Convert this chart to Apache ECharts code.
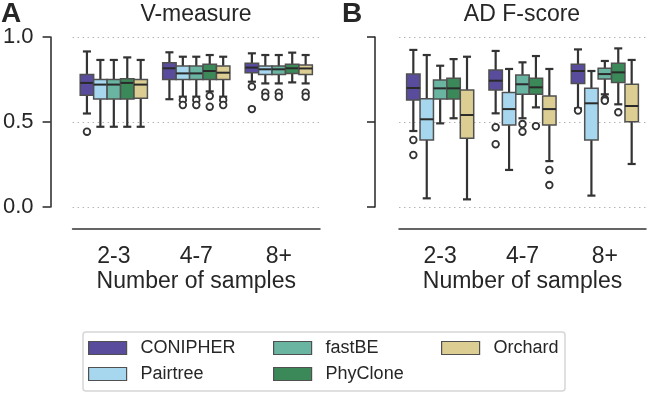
<!DOCTYPE html>
<html>
<head>
<meta charset="utf-8">
<script src="https://cdn.jsdelivr.net/npm/echarts@6/dist/echarts.min.js"></script>
<style>
  html, body { margin: 0; padding: 0; background: #fff; }
  #chart { width: 650px; height: 397px; }
</style>
</head>
<body>
<div id="chart"></div>
<script>
// categories
const groups = ['2-3', '4-7', '8+']
const methods = ['CONIPHER', 'Pairtree', 'fastBE', 'PhyClone', 'Orchard']
const yTicks = [0, 0.5, 1.0]

// V-measure boxes: [min, q1, median, q3, max] per group
const vConipher = [[0.55, 0.657, 0.73, 0.78, 0.915], [0.634, 0.75, 0.816, 0.849, 0.91], [0.737, 0.79, 0.82, 0.845, 0.904]]
const vPairtree = [[0.472, 0.635, 0.72, 0.75, 0.865], [0.649, 0.75, 0.786, 0.829, 0.884], [0.727, 0.78, 0.81, 0.829, 0.894]]
const vFastbe = [[0.472, 0.635, 0.72, 0.75, 0.865], [0.649, 0.75, 0.786, 0.829, 0.884], [0.727, 0.78, 0.81, 0.829, 0.894]]
const vPhyclone = [[0.472, 0.635, 0.73, 0.755, 0.88], [0.68, 0.75, 0.80, 0.84, 0.894], [0.733, 0.786, 0.816, 0.84, 0.908]]
const vOrchard = [[0.472, 0.64, 0.72, 0.75, 0.865], [0.649, 0.75, 0.79, 0.83, 0.884], [0.727, 0.78, 0.815, 0.835, 0.894]]

// V-measure outliers: [group index, value]
const vOutConipher = [[0, 0.443], [2, 0.708], [2, 0.576]]
const vOutPairtree = [[1, 0.63], [1, 0.60], [2, 0.672], [2, 0.649]]
const vOutFastbe = [[1, 0.63], [1, 0.60], [2, 0.672], [2, 0.649]]
const vOutPhyclone = [[1, 0.653], [1, 0.59]]
const vOutOrchard = [[1, 0.63], [1, 0.60], [2, 0.672], [2, 0.649]]

// AD F-score boxes
const aConipher = [[0.447, 0.629, 0.70, 0.782, 0.924], [0.551, 0.688, 0.743, 0.806, 0.918], [0.58, 0.727, 0.80, 0.839, 0.927]]
const aPairtree = [[0.051, 0.394, 0.516, 0.637, 0.894], [0.218, 0.482, 0.576, 0.673, 0.812], [0.067, 0.394, 0.61, 0.698, 0.80]]
const aFastbe = [[0.492, 0.635, 0.698, 0.747, 0.831], [0.522, 0.663, 0.722, 0.776, 0.851], [0.663, 0.753, 0.782, 0.816, 0.859]]
const aPhyclone = [[0.522, 0.635, 0.698, 0.757, 0.87], [0.586, 0.663, 0.704, 0.757, 0.888], [0.604, 0.733, 0.792, 0.845, 0.933]]
const aOrchard = [[0.045, 0.404, 0.541, 0.688, 0.884], [0.27, 0.482, 0.576, 0.653, 0.812], [0.253, 0.502, 0.594, 0.722, 0.865]]

// AD F-score outliers
const aOutConipher = [[0, 0.394], [0, 0.306], [1, 0.469], [1, 0.369], [2, 0.567]]
const aOutPairtree = []
const aOutFastbe = [[1, 0.488], [1, 0.443], [2, 0.635], [2, 0.625]]
const aOutPhyclone = [[1, 0.476], [2, 0.557]]
const aOutOrchard = [[1, 0.218], [1, 0.129]]

const vBoxes = [vConipher, vPairtree, vFastbe, vPhyclone, vOrchard]
const vOuts = [vOutConipher, vOutPairtree, vOutFastbe, vOutPhyclone, vOutOrchard]
const aBoxes = [aConipher, aPairtree, aFastbe, aPhyclone, aOrchard]
const aOuts = [aOutConipher, aOutPairtree, aOutFastbe, aOutPhyclone, aOutOrchard]

const colors = ['#5a4c9c', '#a6d7ee', '#6ab4a2', '#3b8958', '#dccd93']
const FONT = '"Liberation Sans", Arial, Helvetica, sans-serif'
const INK = '#262626'

// 箱体相对类别中心的偏移
function boxOffset(api, mi) {
  const band = api.size([1, 0])[0]
  const step = band * 0.163
  return { off: (mi - 2) * step, w: step }
}

function boxRenderer(mi) {
  return function (params, api) {
    const cat = api.value(0)
    const { off, w } = boxOffset(api, mi)
    const x = api.coord([cat, 0])[0] + off
    const y = v => api.coord([cat, v])[1]
    const yMin = y(api.value(1)), yQ1 = y(api.value(2)), yMed = y(api.value(3))
    const yQ3 = y(api.value(4)), yMax = y(api.value(5))
    const cap = w * 0.3
    const ws = { stroke: '#333', lineWidth: 2.2 }
    return {
      type: 'group',
      children: [
        { type: 'line', shape: { x1: x, y1: yMin, x2: x, y2: yQ1 }, style: ws },
        { type: 'line', shape: { x1: x, y1: yQ3, x2: x, y2: yMax }, style: ws },
        { type: 'line', shape: { x1: x - cap, y1: yMin, x2: x + cap, y2: yMin }, style: ws },
        { type: 'line', shape: { x1: x - cap, y1: yMax, x2: x + cap, y2: yMax }, style: ws },
        { type: 'rect', shape: { x: x - w / 2, y: yQ3, width: w, height: yQ1 - yQ3 },
          style: { fill: colors[mi], stroke: '#505050', lineWidth: 1.5 } },
        { type: 'line', shape: { x1: x - w / 2, y1: yMed, x2: x + w / 2, y2: yMed },
          style: { stroke: '#2a2a2a', lineWidth: 2 } }
      ]
    }
  }
}

function outRenderer(mi) {
  return function (params, api) {
    const cat = api.value(0)
    const { off } = boxOffset(api, mi)
    const p = api.coord([cat, api.value(1)])
    return {
      type: 'circle',
      shape: { cx: p[0] + off, cy: p[1], r: 3.3 },
      style: { fill: '#fff', stroke: '#333', lineWidth: 1.8 }
    }
  }
}

function panelSeries(boxes, outs, idx) {
  const list = []
  methods.forEach((m, mi) => {
    list.push({
      name: m,
      type: 'custom',
      xAxisIndex: idx,
      yAxisIndex: idx,
      color: colors[mi],
      itemStyle: { color: colors[mi], borderColor: '#505050', borderWidth: 1.5 },
      renderItem: boxRenderer(mi),
      encode: { x: 0, y: [1, 2, 3, 4, 5] },
      data: boxes[mi].map((b, gi) => [gi].concat(b)),
      silent: true
    })
  })
  methods.forEach((m, mi) => {
    list.push({
      name: m + ' outliers',
      type: 'custom',
      xAxisIndex: idx,
      yAxisIndex: idx,
      renderItem: outRenderer(mi),
      encode: { x: 0, y: 1 },
      data: outs[mi],
      z: 5,
      silent: true
    })
  })
  return list
}

function xAxisOf(idx) {
  return {
    type: 'category',
    gridIndex: idx,
    data: groups,
    offset: 22,
    axisLine: { onZero: false, lineStyle: { color: '#333', width: 1.5 } },
    axisTick: { alignWithLabel: true, length: 7, lineStyle: { color: '#333', width: 1.5 } },
    axisLabel: { color: INK, fontSize: 23, fontFamily: FONT, margin: 16 },
    name: 'Number of samples',
    nameLocation: 'middle',
    nameGap: 41,
    nameTextStyle: { color: INK, fontSize: 23, fontFamily: FONT }
  }
}

function yAxisOf(idx, showLabel, offset) {
  return {
    type: 'value',
    gridIndex: idx,
    min: yTicks[0],
    max: yTicks[yTicks.length - 1],
    interval: 0.5,
    offset: offset,
    axisLine: { show: true, lineStyle: { color: INK, width: 1.5 } },
    axisTick: { show: true, length: 8, lineStyle: { color: INK, width: 1.5 } },
    axisLabel: { show: showLabel, color: INK, fontSize: 22, fontFamily: FONT, margin: 17,
      formatter: v => v.toFixed(1) },
    splitLine: { show: true, lineStyle: { color: '#b5b5b5', type: [1.5, 3.5], width: 1 } }
  }
}

const legendText = { color: INK, fontSize: 18, fontFamily: FONT, padding: [0, 0, 0, 9], lineHeight: 18 }
function legendOf(names, left) {
  return {
    left: left, top: 339, padding: 0, orient: 'vertical', itemWidth: 38, itemHeight: 13, itemGap: 8,
    icon: 'rect', selectedMode: false,
    itemStyle: { borderColor: '#505050', borderWidth: 1.2 },
    textStyle: legendText,
    data: names
  }
}

const myChart = echarts.init(document.getElementById('chart'))
myChart.setOption({
  animation: false,
  backgroundColor: '#fff',
  grid: [
    { left: 72, top: 37, width: 248, height: 170 },
    { left: 399, top: 37, width: 247, height: 170 }
  ],
  xAxis: [xAxisOf(0), xAxisOf(1)],
  yAxis: [yAxisOf(0, true, 22), yAxisOf(1, false, 24)],
  legend: [
    legendOf(['CONIPHER', 'Pairtree'], 88),
    legendOf(['fastBE', 'PhyClone'], 273),
    legendOf(['Orchard'], 441)
  ],
  graphic: [
    { type: 'text', x: 196, y: 15, style: { text: 'V-measure', font: '23px ' + FONT, fill: INK, textAlign: 'center', textVerticalAlign: 'middle' } },
    { type: 'text', x: 522, y: 15, style: { text: 'AD F-score', font: '23px ' + FONT, fill: INK, textAlign: 'center', textVerticalAlign: 'middle' } },
    { type: 'text', x: 1, y: 14, style: { text: 'A', font: 'bold 28px ' + FONT, fill: INK, textAlign: 'left', textVerticalAlign: 'middle' } },
    { type: 'text', x: 342, y: 14, style: { text: 'B', font: 'bold 28px ' + FONT, fill: INK, textAlign: 'left', textVerticalAlign: 'middle' } },
    { type: 'rect', shape: { x: 83, y: 332, width: 482, height: 59, r: 3 }, style: { fill: 'none', stroke: '#d6d6d6', lineWidth: 1.5 }, z: -1 }
  ],
  series: panelSeries(vBoxes, vOuts, 0).concat(panelSeries(aBoxes, aOuts, 1))
})
</script>
</body>
</html>
